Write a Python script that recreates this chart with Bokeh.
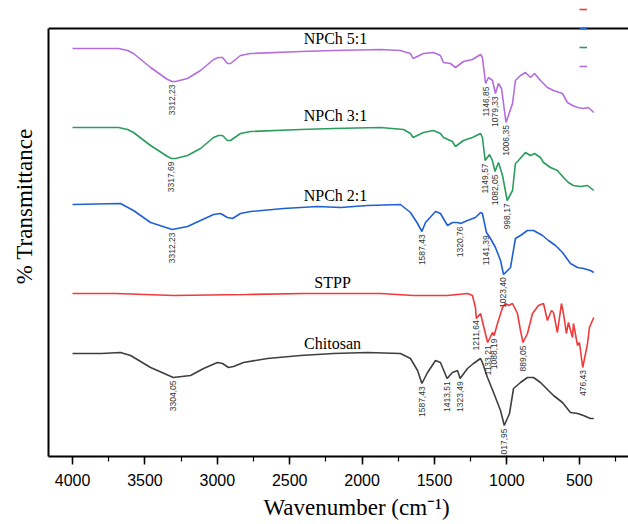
import numpy as np
from bokeh.plotting import figure
from bokeh.models import (Range1d, SingleIntervalTicker, FixedTicker, Span,
                          Title, Legend, LegendItem)
from bokeh.core.properties import value
from bokeh.embed import file_html
from bokeh.resources import INLINE

# ---------------- data (wavenumber cm-1, transmittance a.u., stacked) ----------------
npch51_w = [4000, 3682, 3620, 3579, 3461, 3344, 3312, 3289, 3206, 3116, 3026, 2992, 2964, 2930, 2909,
            2840, 2771, 2425, 2198, 1873, 1735, 1714, 1666, 1648, 1576, 1507, 1459, 1438, 1390, 1355,
            1300, 1238, 1182, 1169, 1147, 1127, 1099, 1079, 1058, 1037, 1006, 961, 941, 906, 872,
            837, 809, 768, 720, 678, 616, 582, 547, 512, 471, 437, 400]
npch51_t = [408, 408, 406, 403, 389, 377, 375, 375, 378, 386, 397, 399, 399, 393, 393,
            401, 403, 405, 406, 407, 406, 405, 403, 398, 403, 404, 401, 394, 393, 389,
            395, 397, 402, 399, 373, 379, 376, 363, 373, 368, 334, 353, 376, 381, 384,
            379, 383, 376, 369, 366, 363, 354, 351, 349, 348, 349, 344]

npch31_w = [4000, 3682, 3620, 3579, 3461, 3344, 3317, 3289, 3206, 3116, 3026, 2992, 2964, 2930, 2909,
            2840, 2771, 2425, 2198, 1873, 1714, 1666, 1648, 1576, 1507, 1459, 1438, 1376, 1355, 1300,
            1238, 1182, 1169, 1150, 1120, 1100, 1082, 1058, 1030, 998, 961, 941, 920, 872, 837,
            809, 768, 747, 699, 651, 609, 575, 540, 492, 443, 400]
npch31_t = [329, 329, 327, 324, 311, 300, 298, 298, 301, 308, 319, 321, 321, 316, 316,
            323, 325, 327, 328, 329, 327, 323, 319, 324, 326, 323, 319, 315, 310, 316,
            319, 323, 319, 296, 302, 296, 285, 294, 281, 256, 266, 293, 296, 304, 301,
            303, 299, 294, 289, 286, 279, 274, 271, 270, 271, 266]

npch21_w = [4000, 3669, 3579, 3461, 3312, 3206, 3116, 3026, 2978, 2930, 2895, 2840, 2771, 2543, 2308,
            2149, 1963, 1735, 1666, 1617, 1587, 1562, 1493, 1459, 1410, 1376, 1341, 1320, 1272, 1217,
            1182, 1169, 1141, 1113, 1079, 1044, 1023, 975, 941, 906, 858, 816, 754, 713, 664,
            616, 561, 512, 471, 423, 400]
npch21_t = [252, 253, 246, 234, 227, 230, 236, 242, 243, 239, 238, 243, 245, 248, 250,
            249, 251, 252, 244, 233, 225, 234, 245, 243, 231, 234, 234, 233, 236, 239,
            244, 243, 224, 218, 209, 196, 182, 189, 218, 221, 226, 226, 221, 216, 211,
            204, 193, 189, 188, 186, 184]

stpp_w = [4000, 3700, 3300, 2800, 2400, 1873, 1645, 1410, 1272, 1238, 1217, 1211, 1182, 1162, 1133,
          1099, 1088, 1065, 1030, 1010, 989, 961, 927, 906, 889, 858, 823, 782, 747, 720,
          692, 678, 651, 623, 609, 589, 575, 547, 540, 512, 499, 476, 443, 430, 400]
stpp_t = [163, 163, 161, 162, 163, 163, 161, 161, 163, 161, 149, 138, 143, 131, 114,
          124, 121, 133, 149, 153, 151, 153, 143, 126, 114, 123, 143, 151, 153, 136,
          146, 144, 124, 153, 143, 123, 134, 119, 133, 111, 114, 89, 113, 129, 139]

chitosan_w = [4000, 3800, 3669, 3599, 3461, 3304, 3185, 3095, 2999, 2964, 2923, 2888, 2819, 2653, 2425,
              2198, 1963, 1735, 1666, 1617, 1587, 1548, 1493, 1459, 1413, 1376, 1341, 1323, 1272, 1231,
              1182, 1169, 1134, 1092, 1044, 1018, 982, 954, 906, 858, 816, 768, 713, 678, 616,
              561, 512, 471, 423, 400]
chitosan_t = [103, 103, 104, 101, 89, 79, 81, 88, 94, 93, 89, 90, 94, 98, 101,
              103, 104, 103, 98, 86, 73, 84, 96, 94, 78, 84, 86, 78, 88, 93,
              98, 94, 79, 64, 46, 31, 43, 68, 74, 79, 79, 74, 66, 61, 54,
              44, 43, 41, 38, 38]

series_names = ["Chitosan", "STPP", "NPCh 2:1", "NPCh 3:1", "NPCh 5:1"]
series_w = [chitosan_w, stpp_w, npch21_w, npch31_w, npch51_w]
series_t = [chitosan_t, stpp_t, npch21_t, npch31_t, npch51_t]
series_colors = ["#3f3f3f", "#f03a3c", "#1f60d8", "#2a9d5c", "#b46ddc"]

# peak annotations
peaks_w = [
    [3304.05, 1587.43, 1413.51, 1323.49, 1017.95],
    [1211.64, 1133.21, 1088.19, 889.05, 476.43],
    [3312.23, 1587.43, 1320.76, 1141.39, 1023.40],
    [3317.69, 1149.57, 1082.05, 998.17],
    [3312.23, 1146.85, 1079.33, 1006.35],
]
peaks_txt = [
    ["3304,05", "1587,43", "1413,51", "1323,49", "1017,95"],
    ["1211,64", "1133,21", "1088,19", "889,05", "476,43"],
    ["3312,23", "1587,43", "1320,76", "1141,39", "1023,40"],
    ["3317,69", "1149,57", "1082,05", "998,17"],
    ["3312,23", "1146,85", "1079,33", "1006,35"],
]

# series name label anchors (wavenumber, transmittance a.u.)
name_w = [2204, 2204, 2184, 2184, 2184]
name_t = [113, 174, 261, 341, 418]

# plotted box: x from 4166 to 160 cm-1, y from 0 to 428 a.u. (space above for the key)
x_lo, x_hi = 4166, 160
y_box_top = 428

# ---------------- figure ----------------
p = figure(width=628, height=524, x_range=Range1d(x_lo, x_hi), y_range=Range1d(0, 456),
           output_backend="svg", toolbar_location=None,
           min_border_left=48, min_border_right=0, min_border_top=0, min_border_bottom=68)
p.xgrid.visible = False
p.ygrid.visible = False
p.outline_line_color = None
p.background_fill_color = "white"

renderers = []
for w, t, c in zip(series_w, series_t, series_colors):
    r = p.line(w, t, line_color=c, line_width=1.6)
    renderers.append(r)

for w, t, pw, pt in zip(series_w, series_t, peaks_w, peaks_txt):
    ww = np.array(w, dtype=float)[::-1]
    tt = np.array(t, dtype=float)[::-1]
    py = np.interp(pw, ww, tt)
    p.text(x=pw, y=py, text=pt, angle=np.pi / 2, text_align="right", text_baseline="middle",
           y_offset=3, text_font=value("Liberation Sans"), text_font_size="8.5px",
           text_color="#333333")

p.text(x=name_w, y=name_t, text=series_names, text_align="center", text_baseline="middle",
       text_font=value("Liberation Serif"), text_font_size="16px", text_color="black")

# bottom axis
xa = p.xaxis[0]
xa.ticker = SingleIntervalTicker(interval=500, num_minor_ticks=2)
xa.axis_line_width = 2
xa.axis_line_color = "black"
xa.major_tick_out = 8
xa.major_tick_in = 0
xa.minor_tick_out = 5
xa.minor_tick_in = 0
xa.major_tick_line_width = 1.5
xa.minor_tick_line_width = 1.2
xa.major_tick_line_color = "black"
xa.minor_tick_line_color = "black"
xa.major_label_text_font = "Liberation Sans"
xa.major_label_text_font_size = "16px"
xa.major_label_text_color = "black"
xa.major_label_standoff = 9

# left axis: plain line up to the box top
ya = p.yaxis[0]
ya.ticker = FixedTicker(ticks=[])
ya.bounds = (0, y_box_top)
ya.axis_line_width = 2
ya.axis_line_color = "black"
ya.major_tick_out = 0
ya.minor_tick_out = 0
ya.major_label_standoff = 0

# top line of the box
p.add_layout(Span(location=y_box_top, dimension="width", line_color="black", line_width=2))

ytitle = Title(text="% Transmittance", align="right", offset=128, standoff=19,
               vertical_align="top",
               text_font="Liberation Serif", text_font_size="23px", text_font_style="normal",
               text_color="black")
p.add_layout(ytitle, "left")

xtitle = Title(text="Wavenumber (cm\u207b\u00b9)", align="left", offset=215, standoff=8,
               text_font="Liberation Serif", text_font_size="23px", text_font_style="normal",
               text_color="black")
p.add_layout(xtitle, "below")

legend = Legend(items=[LegendItem(label=value(" "), renderers=[r]) for r in renderers],
                location=(531, 384), glyph_width=8, glyph_height=12, label_height=12,
                label_width=0, label_standoff=0, spacing=7, padding=0, margin=0,
                label_text_font_size="1px", background_fill_alpha=0, border_line_alpha=0)
p.add_layout(legend)

open("out.html", "w").write(file_html(p, INLINE))
